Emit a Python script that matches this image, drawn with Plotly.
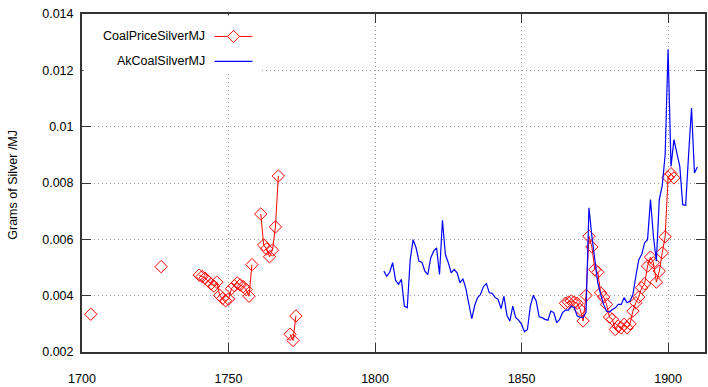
import plotly.graph_objects as go

# ---------------- data ----------------
red_years = [1703, 1704, 1727, 1728,
             1740, 1741, 1742, 1743, 1744, 1745, 1746, 1747, 1748, 1749,
             1750, 1751, 1752, 1753, 1754, 1755, 1756, 1757, 1758, 1759,
             1761, 1762, 1763, 1764, 1765, 1766, 1767, 1768,
             1771, 1772, 1773, 1774,
             1865, 1866, 1867, 1868, 1869, 1870, 1871, 1872, 1873, 1874,
             1875, 1876, 1877, 1878, 1879, 1880, 1881, 1882, 1883, 1884,
             1885, 1886, 1887, 1888, 1889, 1890, 1891, 1892, 1893, 1894,
             1895, 1896, 1897, 1898, 1899, 1900, 1901, 1902]
red_values = [0.00334, None, 0.00503, None,
              0.00473, 0.00468, 0.00462, 0.00452, 0.00442, 0.00434, 0.00448, 0.00401, 0.00390, 0.00382,
              0.00388, 0.00425, 0.00435, 0.00445, 0.00438, 0.00432, 0.00422, 0.00398, 0.00510, None,
              0.00690, 0.00580, 0.00566, 0.00538, 0.00562, 0.00644, 0.00825, None,
              0.00263, 0.00241, 0.00328, None,
              0.00373, 0.00377, 0.00381, 0.00377, 0.00373, 0.00351, 0.00310, 0.00401, 0.00611, 0.00573,
              0.00493, 0.00483, 0.00410, 0.00395, 0.00369, 0.00324, 0.00316, 0.00280, 0.00292, 0.00286,
              0.00298, 0.00286, 0.00300, 0.00345, 0.00375, 0.00395, 0.00428, 0.00442, 0.00505, 0.00537,
              0.00517, 0.00448, 0.00487, 0.00552, 0.00609, 0.00820, 0.00833, 0.00818]

blue_years = list(range(1803, 1911))
blue_values = [0.00487, 0.00469, 0.00483, 0.00517, 0.00455, 0.00440, 0.00458, 0.00363, 0.00357, 0.00528,
               0.00599, 0.00570, 0.00522, 0.00519, 0.00487, 0.00475, 0.00534, 0.00558, 0.00570, 0.00475,
               0.00668, 0.00546, 0.00517, 0.00481, 0.00493, 0.00481, 0.00446, 0.00460, 0.00425, 0.00375,
               0.00318, 0.00365, 0.00393, 0.00404, 0.00432, 0.00443, 0.00410, 0.00408, 0.00393, 0.00387,
               0.00354, 0.00398, 0.00330, 0.00310, 0.00363, 0.00322, 0.00313, 0.00298, 0.00272, 0.00280,
               0.00363, 0.00401, 0.00381, 0.00325, 0.00322, 0.00316, 0.00313, 0.00345, 0.00340, 0.00304,
               0.00316, 0.00340, 0.00349, 0.00349, 0.00363, 0.00357, 0.00328, 0.00324, 0.00322, 0.00340,
               0.00712, 0.00611, 0.00517, 0.00446, 0.00404, 0.00369, 0.00345, 0.00342, 0.00351, 0.00357,
               0.00369, 0.00369, 0.00393, 0.00375, 0.00381, 0.00404, 0.00469, 0.00528, 0.00546, 0.00588,
               0.00599, 0.00741, 0.00610, 0.00522, 0.00741, 0.00790, 0.00900, 0.01275, 0.00859, 0.00954,
               0.00906, 0.00859, 0.00723, 0.00721, 0.00900, 0.01066, 0.00836, 0.00857]

x_ticks = [1700, 1750, 1800, 1850, 1900]
x_tick_labels = ["1700", "1750", "1800", "1850", "1900"]
y_ticks = [0.002, 0.004, 0.006, 0.008, 0.010, 0.012, 0.014]
y_tick_labels = ["0.002", "0.004", "0.006", "0.008", "0.01", "0.012", "0.014"]

series_names = ["CoalPriceSilverMJ", "AkCoalSilverMJ"]
y_title = "Grams of Silver /MJ"

# ---------------- layout geometry ----------------
W, H = 708, 387
ML, MR, MT, MB = 82, 1, 14, 34
PW, PH = W - ML - MR, H - MT - MB
FONT = "Liberation Sans, Arial, sans-serif"
RED, BLUE = "#ff0000", "#0000ff"

def px(xp):
    return (xp - ML) / PW

def py(yp):
    return 1 - (yp - MT) / PH

fig = go.Figure()
fig.add_trace(go.Scatter(x=red_years, y=red_values, mode="lines+markers",
                         name=series_names[0], connectgaps=False,
                         line=dict(color=RED, width=1),
                         marker=dict(symbol="diamond-open", size=9.5, color=RED,
                                     line=dict(color=RED, width=1)),
                         showlegend=False))
fig.add_trace(go.Scatter(x=blue_years, y=blue_values, mode="lines",
                         name=series_names[1],
                         line=dict(color=BLUE, width=1.2),
                         showlegend=False))

axis_common = dict(showline=True, linecolor="#333333", linewidth=2, mirror="ticks",
                   ticks="inside", ticklen=9, tickwidth=1.2, tickcolor="#333333",
                   showgrid=True, gridcolor="#a0a0a0", gridwidth=1, griddash="1px,3px",
                   zeroline=False, tickfont=dict(family=FONT, size=12.5, color="black"))

fig.update_xaxes(range=[1700, 1912.6], tickvals=x_ticks, ticktext=x_tick_labels,
                 ticklabelstandoff=14, **axis_common)
fig.update_yaxes(range=[0.002, 0.014], tickvals=y_ticks, ticktext=y_tick_labels,
                 ticklabelstandoff=4, **axis_common)

shapes = [
    # opaque key box (hides grid lines behind the key)
    dict(type="rect", xref="paper", yref="paper", x0=px(83.5), x1=px(262),
         y0=py(72), y1=py(15.5), fillcolor="white", line=dict(width=0), layer="above"),
    dict(type="line", xref="paper", yref="paper", x0=px(215), x1=px(253),
         y0=py(36.5), y1=py(36.5), line=dict(color=RED, width=1), layer="above"),
    dict(type="path", xref="paper", yref="paper", xsizemode="pixel", ysizemode="pixel",
         xanchor=px(234), yanchor=py(36.5), path="M -6,0 L 0,6 L 6,0 L 0,-6 Z",
         line=dict(color=RED, width=1), fillcolor="white", layer="above"),
    dict(type="line", xref="paper", yref="paper", x0=px(215), x1=px(253),
         y0=py(61.5), y1=py(61.5), line=dict(color=BLUE, width=1.2), layer="above"),
]

annotations = [
    dict(text=series_names[0], xref="paper", yref="paper", x=px(207), y=py(36.5),
         xanchor="right", yanchor="middle", showarrow=False,
         font=dict(family=FONT, size=12.5, color="black")),
    dict(text=series_names[1], xref="paper", yref="paper", x=px(207), y=py(61.5),
         xanchor="right", yanchor="middle", showarrow=False,
         font=dict(family=FONT, size=12.5, color="black")),
    dict(text=y_title, xref="paper", yref="paper", x=px(13), y=py(185),
         xanchor="center", yanchor="middle", textangle=-90, showarrow=False,
         font=dict(family=FONT, size=12.5, color="black")),
]

fig.update_layout(width=W, height=H, margin=dict(l=ML, r=MR, t=MT, b=MB),
                  paper_bgcolor="white", plot_bgcolor="white",
                  shapes=shapes, annotations=annotations, showlegend=False,
                  font=dict(family=FONT, size=12.5, color="black"))

fig.write_html("out.html")
